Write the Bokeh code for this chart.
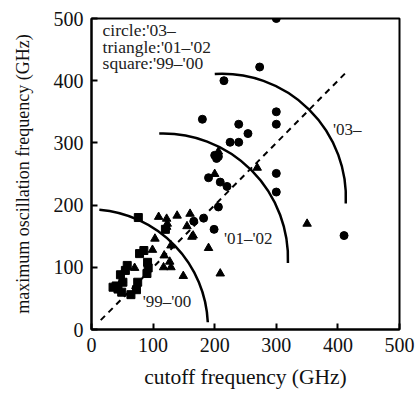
from bokeh.plotting import figure
from bokeh.models import Range1d
from bokeh.core.properties import value
from bokeh.embed import file_html
from bokeh.resources import INLINE

# ---- data ----
circ_x = [300, 273, 215, 180, 300, 300, 239, 254, 225, 239, 200, 203, 206, 300, 300, 190, 209, 220, 206, 182, 166, 199, 410]
circ_y = [500, 422, 400, 338, 350, 330, 330, 315, 301, 301, 280, 275, 278, 251, 221, 244, 237, 230, 197, 179, 174, 161, 151]

tri_x = [269, 350, 206, 200, 160, 139, 122, 109, 155, 163, 190, 209, 129, 118, 117, 129, 127, 149, 103, 99, 123, 165, 70, 53, 50, 122]
tri_y = [260, 170, 286, 250, 186, 183, 178, 181, 166, 149, 131, 90, 135, 119, 100, 100, 109, 86, 146, 128, 170, 151, 99, 95, 80, 165]

sq_x = [76, 85, 78, 58, 55, 91, 92, 90, 75, 73, 64, 35, 43, 49, 51, 47, 120, 40]
sq_y = [180, 127, 122, 103, 95, 108, 99, 90, 76, 64, 56, 68, 65, 60, 76, 88, 161, 70]

ref_x = [15, 413]
ref_y = [15, 413]

arc_cx = [-3, 116, 212]
arc_cy = [3, 114, 212]
arc_r = [192, 203, 201]
arc_start = [2.6, -2.0, -2.7]
arc_end = [85.3, 91.7, 93.4]

era_labels = ["'99\u2013'00", "'01\u2013'02", "'03\u2013"]
era_x = [83, 215, 392]
era_y = [45, 146, 322]

key_labels = ["circle:'03\u2013", "triangle:'01\u2013'02", "square:'99\u2013'00"]
key_x = [18, 18, 18]
key_y = [481, 454, 428]

ticks = [0, 100, 200, 300, 400, 500]

FONT = "Liberation Serif"

p = figure(width=416, height=394, x_range=Range1d(0, 500), y_range=Range1d(0, 500),
           output_backend="svg", toolbar_location=None,
           min_border_left=91, min_border_right=17, min_border_top=18, min_border_bottom=65)
p.xgrid.visible = False
p.ygrid.visible = False
p.outline_line_color = "black"
p.outline_line_width = 2
p.outline_line_alpha = 1
p.background_fill_color = "white"
p.border_fill_color = "white"

for ax in (p.xaxis[0], p.yaxis[0]):
    ax.ticker = ticks
    ax.axis_line_width = 2
    ax.axis_line_color = "black"
    ax.major_tick_in = 6
    ax.major_tick_out = 0
    ax.major_tick_line_width = 2
    ax.major_tick_line_color = "black"
    ax.minor_tick_line_color = None
    ax.major_label_text_font = FONT
    ax.major_label_text_font_size = "20px"
    ax.major_label_text_color = "#111111"
    ax.axis_label_text_font = FONT
    ax.axis_label_text_font_style = "normal"
    ax.axis_label_text_color = "#111111"
    ax.major_label_standoff = 8

p.xaxis.axis_label = "cutoff frequency (GHz)"
p.xaxis.axis_label_text_font_size = "21.5px"
p.xaxis.axis_label_standoff = 10
p.yaxis.axis_label = "maximum oscillation frequency (GHz)"
p.yaxis.axis_label_text_font_size = "18px"
p.yaxis.axis_label_standoff = 18

p.line(ref_x, ref_y, line_color="black", line_width=2, line_dash="6 5")

p.arc(x=arc_cx, y=arc_cy, radius=arc_r, start_angle=arc_start, end_angle=arc_end,
      start_angle_units="deg", end_angle_units="deg", line_color="black", line_width=2.5)

p.scatter(circ_x, circ_y, marker="circle", size=8, color="black")
p.scatter(tri_x, tri_y, marker="triangle", size=8.5, color="black")
p.scatter(sq_x, sq_y, marker="square", size=8, color="black")

p.text(x=era_x, y=era_y, text=era_labels, text_font=value(FONT), text_font_size="17px",
       text_baseline="middle", text_align="left", text_color="#222222")
p.text(x=key_x, y=key_y, text=key_labels, text_font=value(FONT), text_font_size="17.5px",
       text_baseline="middle", text_align="left", text_color="#222222")

open("out.html", "w").write(file_html(p, INLINE))
